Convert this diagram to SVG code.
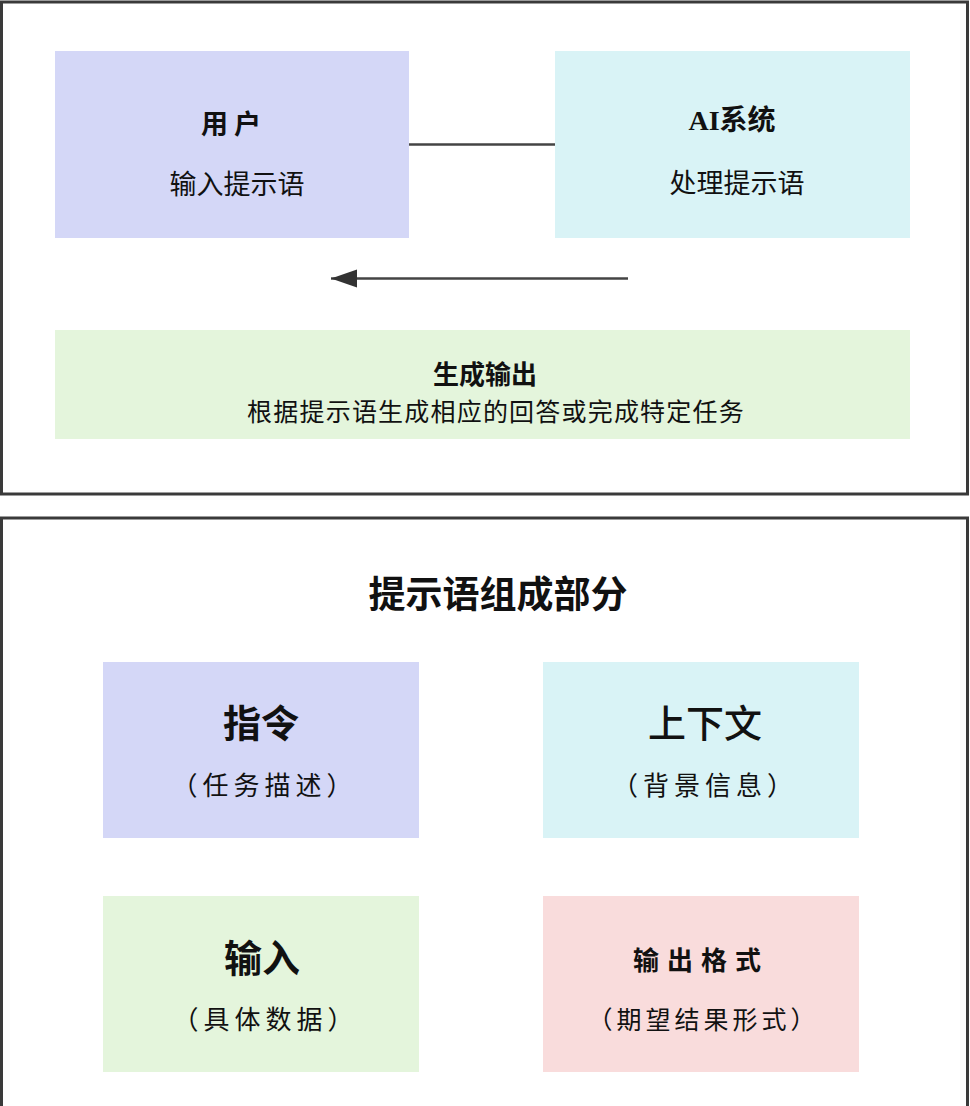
<svg xmlns="http://www.w3.org/2000/svg" width="970" height="1106" viewBox="0 0 970 1106">
<style>
.frame{fill:#ffffff;stroke:#3a3a3a;stroke-width:3}
.t{font-family:"Noto Sans CJK SC","Noto Sans",sans-serif;fill:#111;text-anchor:middle}
.b{font-weight:bold}
.ai{font-family:"Liberation Serif","Noto Sans CJK SC",serif;font-weight:bold;fill:#111;text-anchor:middle}
.conn{stroke:#444;stroke-width:2.5;fill:none}
</style>
<defs>
<marker id="ah" markerUnits="userSpaceOnUse" markerWidth="28" markerHeight="20" refX="26" refY="10" orient="auto">
<path d="M0,1 L26,10 L0,19 Z" fill="#333"/>
</marker>
</defs>
<rect width="970" height="1106" fill="#ffffff"/>
<rect class="frame" x="1.5" y="2" width="966" height="492"/>
<rect class="frame" x="1.5" y="518" width="966" height="600"/>

<g id="user">
<rect x="55" y="51" width="354" height="187" fill="#d4d7f7"/>
<text class="t b" x="234" y="134" font-size="27" letter-spacing="6">用户</text>
<text class="t" x="237" y="194" font-size="27">输入提示语</text>
</g>
<g id="ai">
<rect x="555" y="51" width="355" height="187" fill="#d9f3f6"/>
<text class="ai" x="732" y="130" font-size="28">AI系统</text>
<text class="t" x="737" y="193" font-size="27">处理提示语</text>
</g>
<g id="output">
<rect x="55" y="330" width="855" height="109" fill="#e4f5dc"/>
<text class="t b" x="485" y="384" font-size="26">生成输出</text>
<text class="t" x="496" y="421" font-size="25" letter-spacing="1.2">根据提示语生成相应的回答或完成特定任务</text>
</g>
<g id="connectors">
<line class="conn" x1="409" y1="144.5" x2="555" y2="144.5"/>
<line class="conn" x1="628" y1="278.5" x2="331" y2="278.5" marker-end="url(#ah)"/>
</g>

<g id="title">
<text class="t b" x="498" y="608" font-size="37">提示语组成部分</text>
</g>
<g id="instruction">
<rect x="103" y="662" width="316" height="176" fill="#d4d7f7"/>
<text class="t b" x="261" y="737" font-size="38">指令</text>
<text class="t" x="264.5" y="795" font-size="26" letter-spacing="5">（任务描述）</text>
</g>
<g id="context">
<rect x="543" y="662" width="316" height="176" fill="#d9f3f6"/>
<text class="t" x="705" y="737" font-size="38" font-weight="500">上下文</text>
<text class="t" x="705" y="795" font-size="26" letter-spacing="5">（背景信息）</text>
</g>
<g id="input">
<rect x="103" y="896" width="316" height="176" fill="#e4f5dc"/>
<text class="t b" x="262" y="972" font-size="38">输入</text>
<text class="t" x="265.5" y="1029" font-size="26" letter-spacing="5">（具体数据）</text>
</g>
<g id="format">
<rect x="543" y="896" width="316" height="176" fill="#f9dcdc"/>
<text class="t b" x="701" y="970" font-size="26" letter-spacing="8">输出格式</text>
<text class="t" x="703.5" y="1029" font-size="25" letter-spacing="4">（期望结果形式）</text>
</g>
</svg>
